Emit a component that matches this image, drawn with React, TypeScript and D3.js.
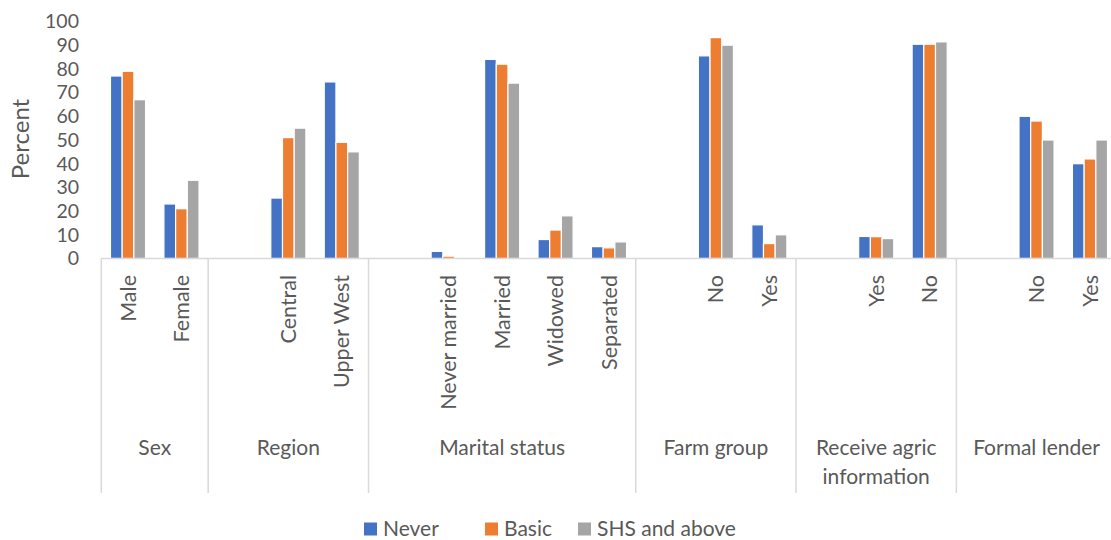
import React, { useEffect, useRef } from 'react';
import * as d3 from 'd3';

const seriesNames = ['Never', 'Basic', 'SHS and above'];
const seriesColors = ['#4472C4', '#ED7D31', '#A5A5A5'];

const groupNames = ['Sex', 'Region', 'Marital status', 'Farm group', 'Receive agric information', 'Formal lender'];
// empty strings are the blank slots that the original chart leaves at the start of a group
const groupSubcategories = [
  ['Male', 'Female'],
  ['', 'Central', 'Upper West'],
  ['', 'Never married', 'Married', 'Widowed', 'Separated'],
  ['', 'No', 'Yes'],
  ['', 'Yes', 'No'],
  ['', 'No', 'Yes'],
];

const neverValues = [77, 23, null, 25.5, 74.5, null, 3, 84, 8, 5, null, 85.5, 14.2, null, 9.3, 90.4, null, 60, 40];
const basicValues = [79, 21, null, 51, 49, null, 1, 82, 12, 4.5, null, 93.2, 6.3, null, 9.2, 90.4, null, 58, 42];
const shsValues = [67, 33, null, 55, 45, null, 0.5, 74, 18, 7, null, 90, 10, null, 8.4, 91.4, null, 50, 50];

const yTicks = [0, 10, 20, 30, 40, 50, 60, 70, 80, 90, 100];

const FONT = 'Lato, "Open Sans", sans-serif';
const TEXT = '#595959';
const AXIS = '#D9D9D9';

export default function App() {
  const svgRef = useRef<SVGSVGElement>(null);

  useEffect(() => {
    if (!svgRef.current) return;
    const svg = d3.select(svgRef.current);
    svg.selectAll('*').remove();

    const left = 101.3;
    const right = 1116.7;
    const baseY = 258.5;
    const topY = 21.5;
    const sepBottom = 493;

    const slots: { key: string; label: string; group: number }[] = [];
    groupSubcategories.forEach((subs, gi) => {
      subs.forEach((label, si) => slots.push({ key: `${gi}-${si}`, label, group: gi }));
    });
    const allValues = [neverValues, basicValues, shsValues];

    const x0 = d3.scaleBand<string>().domain(slots.map(s => s.key)).range([left, right]).padding(0);
    const y = d3.scaleLinear().domain([0, 100]).range([baseY, topY]);
    const slotW = x0.bandwidth();
    const pitch = slotW / (3 + 1.57);
    const x1 = d3.scaleBand<number>().domain([0, 1, 2]).range([-1.5 * pitch, 1.5 * pitch]).padding(0);

    const g = svg.append('g');

    // Y tick labels
    g.selectAll('text.ytick')
      .data(yTicks)
      .enter()
      .append('text')
      .attr('class', 'ytick')
      .attr('x', 79)
      .attr('y', d => y(d))
      .attr('dy', '0.35em')
      .attr('text-anchor', 'end')
      .attr('fill', TEXT)
      .style('font-family', FONT)
      .style('font-size', '19.5px')
      .text(d => d);

    // Y axis title
    g.append('text')
      .attr('transform', `translate(21,139) rotate(-90)`)
      .attr('text-anchor', 'middle')
      .attr('dy', '0.35em')
      .attr('fill', TEXT)
      .style('font-family', FONT)
      .style('font-size', '24px')
      .text('Percent');

    // Bars
    allValues.forEach((vals, si) => {
      g.append('g')
        .selectAll('rect')
        .data(slots.map((s, i) => ({ s, v: vals[i] })).filter(d => d.v != null))
        .enter()
        .append('rect')
        .attr('x', d => (x0(d.s.key) as number) + slotW / 2 + (x1(si) as number))
        .attr('y', d => y(d.v as number))
        .attr('width', x1.bandwidth())
        .attr('height', d => baseY - y(d.v as number))
        .attr('fill', seriesColors[si])
        .attr('stroke', '#ffffff')
        .attr('stroke-width', 1.2);
    });

    // Category axis line
    g.append('line')
      .attr('x1', left).attr('x2', right)
      .attr('y1', baseY).attr('y2', baseY)
      .attr('stroke', AXIS).attr('stroke-width', 1.5);

    // Group separators
    const groupStarts: number[] = [];
    const groupEnds: number[] = [];
    groupSubcategories.forEach((_, gi) => {
      const keys = slots.filter(s => s.group === gi).map(s => s.key);
      groupStarts.push(x0(keys[0]) as number);
      groupEnds.push((x0(keys[keys.length - 1]) as number) + slotW);
    });
    g.selectAll('line.sep')
      .data([...groupStarts, right])
      .enter()
      .append('line')
      .attr('class', 'sep')
      .attr('x1', d => d).attr('x2', d => d)
      .attr('y1', baseY).attr('y2', sepBottom)
      .attr('stroke', AXIS).attr('stroke-width', 1.5);

    // Subcategory labels (rotated)
    g.selectAll('text.sub')
      .data(slots.filter(s => s.label !== ''))
      .enter()
      .append('text')
      .attr('class', 'sub')
      .attr('transform', d => `translate(${(x0(d.key) as number) + slotW / 2},275) rotate(-90)`)
      .attr('text-anchor', 'end')
      .attr('dy', '0.35em')
      .attr('fill', TEXT)
      .style('font-family', FONT)
      .style('font-size', '21.5px')
      .text(d => d.label);

    // Group labels with wrapping
    groupNames.forEach((name, gi) => {
      const cx = (groupStarts[gi] + groupEnds[gi]) / 2;
      const maxW = groupEnds[gi] - groupStarts[gi] - 8;
      const t = g.append('text')
        .attr('x', cx)
        .attr('y', 448)
        .attr('text-anchor', 'middle')
        .attr('fill', TEXT)
        .style('font-family', FONT)
        .style('font-size', '21px');
      const words = name.split(' ');
      let line: string[] = [];
      let tspan = t.append('tspan').attr('x', cx).attr('dy', '0.35em');
      words.forEach(w => {
        line.push(w);
        tspan.text(line.join(' '));
        const node = tspan.node() as SVGTSpanElement;
        if (node.getComputedTextLength() > maxW && line.length > 1) {
          line.pop();
          tspan.text(line.join(' '));
          line = [w];
          tspan = t.append('tspan').attr('x', cx).attr('dy', '29px').text(w);
        }
      });
    });

    // Legend
    const legendX = [364, 485, 578];
    seriesNames.forEach((name, i) => {
      g.append('rect')
        .attr('x', legendX[i]).attr('y', 522.5)
        .attr('width', 13).attr('height', 13)
        .attr('fill', seriesColors[i]);
      g.append('text')
        .attr('x', legendX[i] + 19).attr('y', 528.5)
        .attr('dy', '0.35em')
        .attr('fill', TEXT)
        .style('font-family', FONT)
        .style('font-size', '21px')
        .text(name);
    });
  }, []);

  return (
    <svg
      ref={svgRef}
      width={1111}
      height={540}
      style={{ position: 'absolute', left: 0, top: 0, background: '#ffffff' }}
    />
  );
}
